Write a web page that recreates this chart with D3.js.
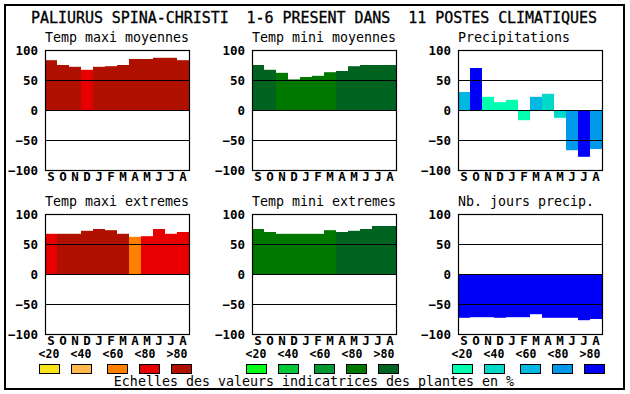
<!DOCTYPE html>
<html>
<head>
<meta charset="utf-8">
<script src="https://cdn.jsdelivr.net/npm/d3@7"></script>
<style>
  body { margin: 0; background: #fff; }
  text { font-family: "DejaVu Sans Mono", "Liberation Mono", monospace; fill: #000; white-space: pre; }
</style>
</head>
<body>
<div id="chart"></div>
<script>
// Data
const title = 'PALIURUS SPINA-CHRISTI  1-6 PRESENT DANS  11 POSTES CLIMATIQUES';
const months = ['S', 'O', 'N', 'D', 'J', 'F', 'M', 'A', 'M', 'J', 'J', 'A'];
const yTicks = [100, 50, 0, -50, -100];
const legendLabels = ['<20', '<40', '<60', '<80', '>80'];
const footer = 'Echelles des valeurs indicatrices des plantes en %';

const panelTitles = ['Temp maxi moyennes', 'Temp mini moyennes', 'Precipitations',
                     'Temp maxi extremes', 'Temp mini extremes', 'Nb. jours precip.'];

const tempMaxiMoy = [83, 75, 72, 67, 72, 73, 75, 85, 85, 87, 87, 83];
const tempMiniMoy = [75, 67, 62, 51, 55, 57, 63, 65, 73, 75, 75, 75];
const precip      = [30, 70, 22, 13, 17, -17, 22, 27, -13, -67, -78, -65];
const tempMaxiExt = [67, 67, 67, 72, 75, 73, 67, 62, 63, 75, 67, 70];
const tempMiniExt = [75, 70, 67, 67, 67, 67, 73, 70, 72, 75, 80, 80];
const nbJours     = [-73, -72, -72, -73, -72, -72, -67, -73, -73, -73, -77, -75];

// class of each bar (0 = <20 ... 4 = >80)
const tempMaxiMoyCls = [4, 4, 4, 3, 4, 4, 4, 4, 4, 4, 4, 4];
const tempMiniMoyCls = [4, 4, 3, 3, 3, 3, 3, 4, 4, 4, 4, 4];
const precipCls      = [2, 4, 0, 0, 0, 0, 2, 1, 1, 3, 4, 3];
const tempMaxiExtCls = [3, 4, 4, 4, 4, 4, 4, 2, 3, 3, 3, 3];
const tempMiniExtCls = [3, 3, 3, 3, 3, 3, 3, 4, 4, 4, 4, 4];
const nbJoursCls     = [4, 4, 4, 4, 4, 4, 4, 4, 4, 4, 4, 4];

const reds   = ['#f8e418', '#ffb84c', '#ff8000', '#e80000', '#b01000'];
const greens = ['#00ff18', '#00c838', '#009830', '#007800', '#006420'];
const blues  = ['#00ffb0', '#00d8c8', '#00b8e0', '#0098e8', '#0000f8'];

const panels = [
  { values: tempMaxiMoy, cls: tempMaxiMoyCls, palette: reds },
  { values: tempMiniMoy, cls: tempMiniMoyCls, palette: greens },
  { values: precip,      cls: precipCls,      palette: blues },
  { values: tempMaxiExt, cls: tempMaxiExtCls, palette: reds },
  { values: tempMiniExt, cls: tempMiniExtCls, palette: greens },
  { values: nbJours,     cls: nbJoursCls,     palette: blues }
];

// layout
const width = 630, height = 394;
const plotW = 144, plotH = 120;
const colX = [45, 252, 458];
const rowY = [50, 214];

const svg = d3.select('#chart')
  .append('svg')
  .attr('width', width)
  .attr('height', height);

// outer frame
svg.append('rect')
  .attr('x', 5).attr('y', 5)
  .attr('width', 619).attr('height', 384)
  .attr('fill', 'none')
  .attr('stroke', '#000')
  .attr('stroke-width', 2);

svg.append('text')
  .attr('x', 314).attr('y', 23)
  .attr('text-anchor', 'middle')
  .attr('xml:space', 'preserve')
  .style('font-size', '15px')
  .style('stroke', '#000')
  .style('stroke-width', 0.3)
  .attr('textLength', 566)
  .attr('lengthAdjust', 'spacing')
  .text(title);

const x = d3.scaleBand().domain(d3.range(months.length)).range([0, plotW]);
const y = d3.scaleLinear().domain([-100, 100]).range([plotH, 0]);

panels.forEach((p, k) => {
  const g = svg.append('g')
    .attr('transform', `translate(${colX[k % 3]},${rowY[Math.floor(k / 3)]})`);

  // panel title, left aligned on the plot
  g.append('text')
    .attr('x', 0).attr('y', -8)
    .attr('text-anchor', 'start')
    .style('font-size', '13.3px')
    .text(panelTitles[k]);

  // bars
  g.selectAll('.bar')
    .data(p.values)
    .enter()
    .append('rect')
    .attr('class', 'bar')
    .attr('x', (d, i) => x(i))
    .attr('y', d => y(Math.max(d, 0)))
    .attr('width', x.bandwidth())
    .attr('height', d => Math.abs(y(d) - y(0)))
    .attr('fill', (d, i) => p.palette[p.cls[i]]);

  // horizontal lines at 50, 0, -50
  g.selectAll('.hline')
    .data([50, 0, -50])
    .enter()
    .append('line')
    .attr('x1', 0).attr('x2', plotW)
    .attr('y1', d => Math.round(y(d)) + 0.5)
    .attr('y2', d => Math.round(y(d)) + 0.5)
    .attr('stroke', '#000');

  g.append('rect')
    .attr('x', 0.5).attr('y', 0.5)
    .attr('width', plotW).attr('height', plotH)
    .attr('fill', 'none')
    .attr('stroke', '#000')
    .attr('stroke-width', 1.2);

  // y axis labels
  const yAxis = d3.axisLeft(y).tickValues(yTicks).tickSize(0).tickPadding(7);
  const ax = g.append('g').call(yAxis);
  ax.select('.domain').remove();
  ax.selectAll('text')
    .style('font-family', '"DejaVu Sans Mono", monospace')
    .style('font-size', '12.5px')
    .style('font-weight', 'bold')
    .attr('fill', '#000');

  // month labels
  g.selectAll('.month')
    .data(months)
    .enter()
    .append('text')
    .attr('x', (d, i) => x(i) + x.bandwidth() / 2)
    .attr('y', plotH + 11)
    .attr('text-anchor', 'middle')
    .style('font-size', '12.5px')
    .style('font-weight', 'bold')
    .text(d => d);

  // legend under the bottom row
  if (k >= 3) {
    g.selectAll('.leg-label')
      .data(legendLabels)
      .enter()
      .append('text')
      .attr('x', (d, i) => 4 + i * 32)
      .attr('y', plotH + 24)
      .attr('text-anchor', 'middle')
      .style('font-size', '11.5px')
      .style('font-weight', 'bold')
      .text(d => d);

    const swatchX = [-6, 26, 62, 94, 126];
    g.selectAll('.leg-swatch')
      .data(p.palette)
      .enter()
      .append('rect')
      .attr('x', (d, i) => swatchX[i] + 0.5)
      .attr('y', plotH + 30.5)
      .attr('width', 20)
      .attr('height', 9)
      .attr('fill', d => d)
      .attr('stroke', '#000')
      .attr('stroke-width', 1);
  }
});

svg.append('text')
  .attr('x', 314).attr('y', 386)
  .attr('text-anchor', 'middle')
  .style('font-size', '13.3px')
  .text(footer);
</script>
</body>
</html>
